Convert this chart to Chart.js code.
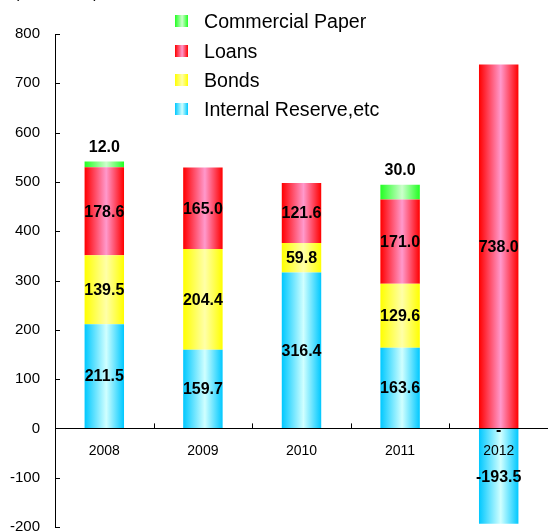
<!DOCTYPE html>
<html><head><meta charset="utf-8">
<script src="https://cdn.jsdelivr.net/npm/chart.js@4.4.1/dist/chart.umd.min.js"></script>
<style>
html,body{margin:0;padding:0;background:#fff;}
#wrap{position:relative;width:548px;height:531px;overflow:hidden;font-family:"Liberation Sans",Arial,sans-serif;color:#000;}
#c{position:absolute;left:0;top:0;}
.unit{position:absolute;left:14px;top:-16px;font-size:16px;line-height:18px;white-space:nowrap;}
.sw{position:absolute;left:175px;width:13px;height:12px;}
.lt{position:absolute;left:204px;font-size:19.6px;line-height:22px;white-space:nowrap;}
</style></head>
<body>
<div id="wrap">
<canvas id="c" width="548" height="531"></canvas>
<div class="unit">(Billion Yen)</div>
<div id="legend"></div>
</div>
<script>
const categories = ['2008', '2009', '2010', '2011', '2012'];
const internalReserve = [211.5, 159.7, 316.4, 163.6, -193.5];
const bonds = [139.5, 204.4, 59.8, 129.6, 0];
const loans = [178.6, 165.0, 121.6, 171.0, 738.0];
const commercialPaper = [12.0, 0, 0, 30.0, 0];
const seriesNames = ['Internal Reserve,etc', 'Bonds', 'Loans', 'Commercial Paper'];
const yMin = -200, yMax = 800, yStep = 100;

const palettes = {
  cyan:   ['#00c8ff', '#d0ffff', '#00c8ff'],
  yellow: ['#ffff00', '#ffffa8', '#ffff00'],
  red:    ['#ff0000', '#ff99cc', '#ff0000'],
  green:  ['#22ff22', '#ccffcc', '#22ff22']
};
const BAR_PCT = 0.4;

function grad(p) {
  return function (ctx) {
    const chart = ctx.chart;
    const xs = chart.scales && chart.scales.x;
    if (!xs || !chart.chartArea || ctx.dataIndex === undefined) return p[1];
    const cx = xs.getPixelForValue(ctx.dataIndex);
    const w = (xs.width / categories.length) * BAR_PCT;
    const g = chart.ctx.createLinearGradient(cx - w / 2, 0, cx + w / 2, 0);
    g.addColorStop(0, p[0]);
    g.addColorStop(0.55, p[1]);
    g.addColorStop(1, p[2]);
    return g;
  };
}

// HTML legend (reverse order, as in the reference)
const legendItems = [
  [seriesNames[3], palettes.green, 20.7],
  [seriesNames[2], palettes.red, 50.7],
  [seriesNames[1], palettes.yellow, 80],
  [seriesNames[0], palettes.cyan, 108.7]
];
const lg = document.getElementById('legend');
legendItems.forEach(([name, p, cy]) => {
  const s = document.createElement('div');
  s.className = 'sw';
  s.style.top = (cy - 6) + 'px';
  s.style.background = `linear-gradient(to right, ${p[0]} 0%, ${p[1]} 55%, ${p[2]} 100%)`;
  lg.appendChild(s);
  const t = document.createElement('div');
  t.className = 'lt';
  t.style.top = (cy - 11) + 'px';
  t.textContent = name;
  lg.appendChild(t);
});

const labelPlugin = {
  id: 'valueLabels',
  afterDatasetsDraw(chart) {
    const ctx = chart.ctx;
    const y0 = chart.scales.y.getPixelForValue(0);
    ctx.save();
    ctx.font = 'bold 16px "Liberation Sans", Arial, sans-serif';
    ctx.fillStyle = '#000';
    ctx.textAlign = 'center';
    chart.data.datasets.forEach((ds, di) => {
      const meta = chart.getDatasetMeta(di);
      meta.data.forEach((el, i) => {
        const v = ds.data[i];
        if (di === 3) {
          if (!v) return;
          ctx.textBaseline = 'bottom';
          ctx.fillText(v.toFixed(1), el.x, el.y - 6);
        } else if (v === 0) {
          ctx.textBaseline = 'middle';
          ctx.fillText('-', el.x, y0 + 2);
        } else {
          ctx.textBaseline = 'middle';
          ctx.fillText(v.toFixed(1), el.x, (el.y + el.base) / 2 + 1);
        }
      });
    });
    ctx.restore();
  },
  afterDraw(chart) {
    const ctx = chart.ctx;
    const xs = chart.scales.x, ys = chart.scales.y;
    const area = chart.chartArea;
    const y0 = ys.getPixelForValue(0);
    ctx.save();
    ctx.strokeStyle = '#000';
    ctx.lineWidth = 1;
    ctx.beginPath();
    for (let v = yMin; v <= yMax; v += yStep) {
      const y = Math.round(ys.getPixelForValue(v)) + 0.5;
      ctx.moveTo(area.left, y);
      ctx.lineTo(area.left + 5, y);
    }
    const cw = xs.width / categories.length;
    for (let i = 1; i < categories.length; i++) {
      const x = Math.round(area.left + cw * i) + 0.5;
      ctx.moveTo(x, y0);
      ctx.lineTo(x, y0 - 5);
    }
    ctx.stroke();
    ctx.restore();
  }
};

const fontFam = '"Liberation Sans", Arial, sans-serif';

new Chart(document.getElementById('c'), {
  type: 'bar',
  data: {
    labels: categories,
    datasets: [
      { label: seriesNames[0], data: internalReserve, backgroundColor: grad(palettes.cyan) },
      { label: seriesNames[1], data: bonds, backgroundColor: grad(palettes.yellow) },
      { label: seriesNames[2], data: loans, backgroundColor: grad(palettes.red) },
      { label: seriesNames[3], data: commercialPaper, backgroundColor: grad(palettes.green) }
    ]
  },
  options: {
    responsive: false,
    animation: false,
    devicePixelRatio: 1,
    datasets: { bar: { barPercentage: BAR_PCT, categoryPercentage: 1.0, borderWidth: 0 } },
    layout: { padding: { top: 34, right: -18, bottom: 4, left: 0 } },
    plugins: { legend: { display: false }, tooltip: { enabled: false } },
    scales: {
      x: {
        type: 'category',
        stacked: true,
        position: { y: 0 },
        offset: true,
        grid: { display: true, drawOnChartArea: false, drawTicks: false, color: '#000', z: 1 },
        border: { display: true, color: '#000', width: 1, z: 1 },
        ticks: { color: '#000', font: { family: fontFam, size: 14 }, padding: 14, maxRotation: 0, autoSkip: false, z: 1 }
      },
      y: {
        stacked: true,
        min: yMin,
        max: yMax,
        grid: { display: true, drawOnChartArea: false, drawTicks: false },
        border: { display: true, color: '#000', width: 1 },
        ticks: { stepSize: yStep, color: '#000', font: { family: fontFam, size: 15 }, padding: 15 },
        afterFit(s) { s.width = 55; s.paddingTop = 0; s.paddingBottom = 0; }
      }
    }
  },
  plugins: [labelPlugin]
});
</script>
</body></html>
